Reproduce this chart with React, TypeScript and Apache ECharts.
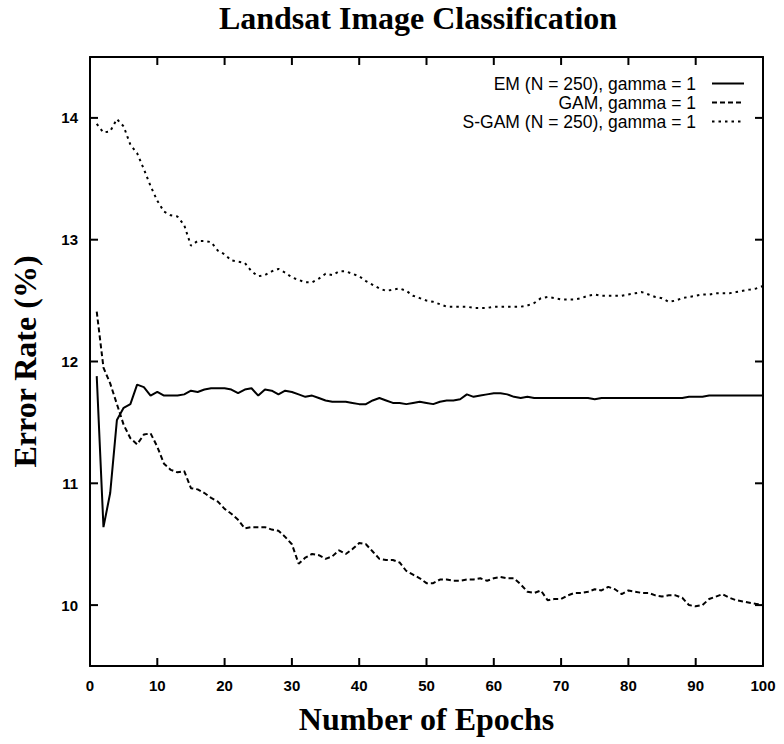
import React, { useEffect, useRef } from "react";
import * as echarts from "echarts";

const seriesNames = [
  "EM (N = 250), gamma = 1",
  "GAM, gamma = 1",
  "S-GAM (N = 250), gamma = 1",
];

const epochs = [
  1, 2, 3, 4, 5, 6, 7, 8, 9, 10, 11, 12, 13, 14, 15, 16, 17, 18, 19, 20,
  21, 22, 23, 24, 25, 26, 27, 28, 29, 30, 31, 32, 33, 34, 35, 36, 37, 38, 39, 40,
  41, 42, 43, 44, 45, 46, 47, 48, 49, 50, 51, 52, 53, 54, 55, 56, 57, 58, 59, 60,
  61, 62, 63, 64, 65, 66, 67, 68, 69, 70, 71, 72, 73, 74, 75, 76, 77, 78, 79, 80,
  81, 82, 83, 84, 85, 86, 87, 88, 89, 90, 91, 92, 93, 94, 95, 96, 97, 98, 99, 100,
];

const emValues = [
  11.88, 10.64, 10.92, 11.52, 11.62, 11.65, 11.81, 11.79, 11.72, 11.75,
  11.72, 11.72, 11.72, 11.73, 11.76, 11.75, 11.77, 11.78, 11.78, 11.78,
  11.77, 11.74, 11.77, 11.78, 11.72, 11.77, 11.76, 11.73, 11.76, 11.75,
  11.73, 11.71, 11.72, 11.70, 11.68, 11.67, 11.67, 11.67, 11.66, 11.65,
  11.65, 11.68, 11.70, 11.68, 11.66, 11.66, 11.65, 11.66, 11.67, 11.66,
  11.65, 11.67, 11.68, 11.68, 11.69, 11.73, 11.71, 11.72, 11.73, 11.74,
  11.74, 11.73, 11.71, 11.70, 11.71, 11.70, 11.70, 11.70, 11.70, 11.70,
  11.70, 11.70, 11.70, 11.70, 11.69, 11.70, 11.70, 11.70, 11.70, 11.70,
  11.70, 11.70, 11.70, 11.70, 11.70, 11.70, 11.70, 11.70, 11.71, 11.71,
  11.71, 11.72, 11.72, 11.72, 11.72, 11.72, 11.72, 11.72, 11.72, 11.72,
];

const gamValues = [
  12.41, 11.95, 11.82, 11.65, 11.48, 11.37, 11.32, 11.40, 11.41, 11.30,
  11.16, 11.11, 11.09, 11.10, 10.96, 10.95, 10.92, 10.88, 10.85, 10.79,
  10.75, 10.70, 10.63, 10.64, 10.64, 10.64, 10.62, 10.61, 10.56, 10.50,
  10.34, 10.39, 10.42, 10.41, 10.38, 10.40, 10.45, 10.42, 10.46, 10.51,
  10.50, 10.44, 10.38, 10.37, 10.37, 10.35, 10.28, 10.25, 10.22, 10.18,
  10.18, 10.21, 10.21, 10.20, 10.20, 10.21, 10.21, 10.22, 10.20, 10.22,
  10.23, 10.22, 10.22, 10.17, 10.11, 10.10, 10.12, 10.04, 10.05, 10.05,
  10.08, 10.10, 10.10, 10.11, 10.13, 10.12, 10.15, 10.13, 10.09, 10.12,
  10.11, 10.10, 10.10, 10.08, 10.07, 10.08, 10.08, 10.06, 10.00, 9.99,
  10.00, 10.05, 10.07, 10.09, 10.06, 10.04, 10.03, 10.02, 10.01, 10.00,
];

const sgamValues = [
  13.95, 13.88, 13.89, 13.99, 13.93, 13.78, 13.71, 13.58, 13.44, 13.32,
  13.23, 13.20, 13.19, 13.12, 12.95, 12.99, 12.99, 12.98, 12.91, 12.88,
  12.83, 12.82, 12.81, 12.74, 12.70, 12.71, 12.74, 12.76, 12.73, 12.69,
  12.67, 12.65, 12.65, 12.68, 12.72, 12.71, 12.74, 12.74, 12.72, 12.70,
  12.66, 12.63, 12.60, 12.58, 12.59, 12.60, 12.58, 12.54, 12.52, 12.50,
  12.49, 12.47, 12.45, 12.45, 12.45, 12.45, 12.44, 12.44, 12.44, 12.45,
  12.45, 12.45, 12.45, 12.45, 12.46, 12.48, 12.52, 12.53, 12.52, 12.51,
  12.51, 12.51, 12.52, 12.54, 12.55, 12.54, 12.54, 12.54, 12.54, 12.55,
  12.56, 12.57, 12.55, 12.53, 12.52, 12.49, 12.50, 12.52, 12.53, 12.54,
  12.55, 12.55, 12.56, 12.56, 12.56, 12.57, 12.58, 12.59, 12.60, 12.62,
];

const xTicks = [10, 20, 30, 40, 50, 60, 70, 80, 90];
const yTicks = [10, 11, 12, 13, 14];
const xRange = [0, 100];
const yRange = [9.5, 14.5];

const titleText = "Landsat Image Classification";
const xAxisTitle = "Number of Epochs";
const yAxisTitle = "Error Rate (%)";

const serif = "'Liberation Serif', 'DejaVu Serif', serif";
const sans = "'Liberation Sans', Arial, sans-serif";

export default function App() {
  const ref = useRef<HTMLDivElement>(null);

  useEffect(() => {
    if (!ref.current) return;
    const chart = echarts.init(ref.current, undefined, { renderer: "svg" });

    const pair = (vals: number[]) => epochs.map((e, i) => [e, vals[i]]);
    const TICK = 8;
    const TICK_COLOR = "#000";

    const mkAxisLine = () => ({ show: true, onZero: false, lineStyle: { color: "#000", width: 2 } });
    const mkLabel = () => ({ margin: 12, fontFamily: sans, fontWeight: "bold", fontSize: 15, color: "#000" });
    const mkName = () => ({ fontFamily: serif, fontWeight: "bold", fontSize: 32, color: "#000" });

    chart.setOption({
      animation: false,
      backgroundColor: "#fff",
      title: {
        text: titleText,
        left: 418,
        textAlign: "center",
        top: 2,
        padding: 0,
        textStyle: { fontFamily: serif, fontWeight: "bold", fontSize: 32, color: "#000" },
      },
      legend: {
        orient: "vertical",
        right: 39,
        top: 74.5,
        padding: 0,
        align: "right",
        itemWidth: 32,
        itemHeight: 14,
        itemGap: 1,
        selectedMode: false,
        textStyle: { fontFamily: sans, fontSize: 17.5, color: "#000", padding: [0, 11, 0, 0] },
        itemStyle: { opacity: 0 },
        data: seriesNames,
      },
      grid: { left: 90, right: 21, top: 57, bottom: 78 },
      xAxis: [
        {
          type: "value",
          min: xRange[0],
          max: xRange[1],
          interval: 10,
          position: "bottom",
          name: xAxisTitle,
          nameLocation: "middle",
          nameGap: 37,
          nameTextStyle: mkName(),
          axisLine: mkAxisLine(),
          axisTick: { show: false },
          axisLabel: mkLabel(),
          splitLine: { show: false },
        },
        {
          type: "value",
          min: xRange[0],
          max: xRange[1],
          interval: 10,
          position: "top",
          axisLine: mkAxisLine(),
          axisTick: { show: false },
          axisLabel: { show: false },
          splitLine: { show: false },
        },
      ],
      yAxis: [
        {
          type: "value",
          min: yRange[0],
          max: yRange[1],
          position: "left",
          name: yAxisTitle,
          nameLocation: "middle",
          nameGap: 49,
          nameTextStyle: mkName(),
          axisLine: mkAxisLine(),
          axisTick: { show: false },
          axisLabel: { ...mkLabel(), customValues: yTicks },
          splitLine: { show: false },
        },
        {
          type: "value",
          min: yRange[0],
          max: yRange[1],
          position: "right",
          axisLine: mkAxisLine(),
          axisTick: { show: false },
          axisLabel: { show: false },
          splitLine: { show: false },
        },
      ],
      series: [
        {
          name: seriesNames[0],
          type: "line",
          data: pair(emValues),
          symbol: "none",
          lineStyle: { color: "#000", width: 2, type: "solid" },
          itemStyle: { color: "#000" },
        },
        {
          name: seriesNames[1],
          type: "line",
          data: pair(gamValues),
          symbol: "none",
          lineStyle: { color: "#000", width: 2, type: [5, 3] },
          itemStyle: { color: "#000" },
        },
        {
          name: seriesNames[2],
          type: "line",
          data: pair(sgamValues),
          symbol: "none",
          lineStyle: { color: "#000", width: 2, type: [2.5, 4] },
          itemStyle: { color: "#000" },
        },
        {
          type: "custom",
          clip: false,
          silent: true,
          z: 5,
          data: xTicks.map((v) => [v, yRange[0]]),
          encode: { x: 0, y: 1 },
          renderItem: (_p: any, api: any) => {
            const v = api.value(0);
            const b = api.coord([v, yRange[0]]);
            const t = api.coord([v, yRange[1]]);
            return {
              type: "group",
              children: [
                { type: "line", shape: { x1: b[0], y1: b[1], x2: b[0], y2: b[1] - TICK }, style: { stroke: TICK_COLOR, lineWidth: 2 } },
                { type: "line", shape: { x1: t[0], y1: t[1], x2: t[0], y2: t[1] + TICK }, style: { stroke: TICK_COLOR, lineWidth: 2 } },
              ],
            };
          },
        },
        {
          type: "custom",
          clip: false,
          silent: true,
          z: 5,
          data: yTicks.map((v) => [xRange[0], v]),
          encode: { x: 0, y: 1 },
          renderItem: (_p: any, api: any) => {
            const v = api.value(1);
            const l = api.coord([xRange[0], v]);
            const r = api.coord([xRange[1], v]);
            return {
              type: "group",
              children: [
                { type: "line", shape: { x1: l[0], y1: l[1], x2: l[0] + TICK, y2: l[1] }, style: { stroke: TICK_COLOR, lineWidth: 2 } },
                { type: "line", shape: { x1: r[0], y1: r[1], x2: r[0] - TICK, y2: r[1] }, style: { stroke: TICK_COLOR, lineWidth: 2 } },
              ],
            };
          },
        },
      ],
    });

    return () => chart.dispose();
  }, []);

  return (
    <div
      ref={ref}
      style={{ position: "fixed", left: 0, top: 0, width: 784, height: 744, background: "#fff" }}
    />
  );
}
